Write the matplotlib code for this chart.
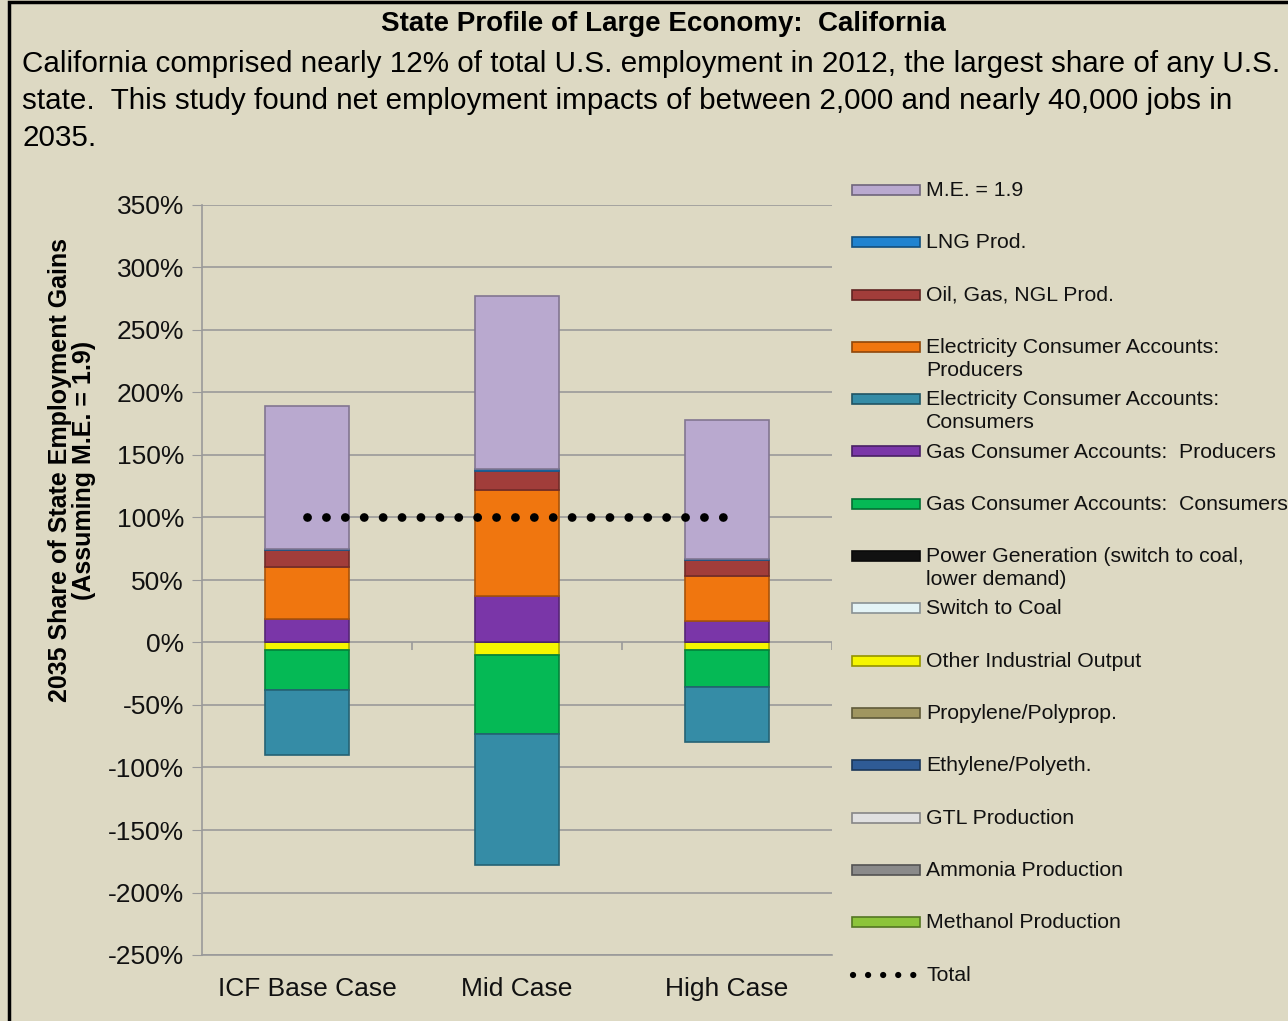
import matplotlib
matplotlib.use("Agg")
import matplotlib.pyplot as plt
from matplotlib.patches import Rectangle
from matplotlib.lines import Line2D
import numpy as np

plt.rcParams["font.family"] = ["Liberation Sans", "DejaVu Sans"]

# Data (% of state employment gains in 2035)
cases = ["ICF Base Case", "Mid Case", "High Case"]
me = [114, 138, 111]
lng_prod = [1, 2, 1]
oil_gas = [14, 15, 13]
elec_producers = [41, 85, 36]
elec_consumers = [-52, -105, -44]
gas_producers = [19, 37, 17]
gas_consumers = [-32, -63, -30]
power_gen = [0, 0, 0]
switch_coal = [0, 0, 0]
other_industrial = [-6, -10, -6]
propylene = [0, 0, 0]
ethylene = [0, 0, 0]
gtl = [0, 0, 0]
ammonia = [0, 0, 0]
methanol = [0, 0, 0]
total = [100, 100, 100]

# legend order (top to bottom)
series = [
    ("M.E. = 1.9", me, "#B9A9CF"),
    ("LNG Prod.", lng_prod, "#1F83D0"),
    ("Oil, Gas, NGL Prod.", oil_gas, "#A13D3A"),
    ("Electricity Consumer Accounts:\nProducers", elec_producers, "#F0760F"),
    ("Electricity Consumer Accounts:\nConsumers", elec_consumers, "#358CA6"),
    ("Gas Consumer Accounts:  Producers", gas_producers, "#7A36A8"),
    ("Gas Consumer Accounts:  Consumers", gas_consumers, "#05B955"),
    ("Power Generation (switch to coal,\nlower demand)", power_gen, "#111111"),
    ("Switch to Coal", switch_coal, "#E4F4F6"),
    ("Other Industrial Output", other_industrial, "#F6F600"),
    ("Propylene/Polyprop.", propylene, "#A09660"),
    ("Ethylene/Polyeth.", ethylene, "#2F5B95"),
    ("GTL Production", gtl, "#E0E0E0"),
    ("Ammonia Production", ammonia, "#8A8A8A"),
    ("Methanol Production", methanol, "#8CC43A"),
]

bg = "#DDD9C3"
W, H = 1288, 1021
fig = plt.figure(figsize=(W / 100, H / 100), dpi=100, facecolor=bg)

def fx(px):
    return px / W

def fy(py):
    return 1 - py / H

def darker(color, k):
    return matplotlib.colors.to_hex(np.array(matplotlib.colors.to_rgb(color)) * k)

# outer border (cut off at right and bottom)
fig.add_artist(Rectangle((fx(9), -0.05), 1.2, fy(1.5) + 0.05, transform=fig.transFigure,
                         fill=False, edgecolor="black", linewidth=2.5))

fig.text(fx(663), fy(24), "State Profile of Large Economy:  California", ha="center", va="center",
         fontsize=20, fontweight="bold", color="black")
body = ["California comprised nearly 12% of total U.S. employment in 2012, the largest share of any U.S.",
        "state.  This study found net employment impacts of between 2,000 and nearly 40,000 jobs in",
        "2035."]
for i, line in enumerate(body):
    fig.text(fx(22), fy(64 + 37 * i), line, ha="left", va="center", fontsize=21.3, color="black")

ax = fig.add_axes([fx(202), fy(955), fx(832) - fx(202), fy(205) - fy(955)])
ax.set_facecolor(bg)

x = np.arange(len(cases))
pos_base = np.zeros(len(cases))
neg_base = np.zeros(len(cases))
for name, vals, color in series[::-1]:
    v = np.array(vals, dtype=float)
    bottoms = np.where(v >= 0, pos_base, neg_base)
    ax.bar(x, v, 0.4, bottom=bottoms, color=color, edgecolor=darker(color, 0.7),
           linewidth=1.2, zorder=3)
    pos_base += np.where(v >= 0, v, 0)
    neg_base += np.where(v < 0, v, 0)

ax.plot(x, total, color="black", lw=6.3, linestyle=(0, (0.01, 2.15)),
        dash_capstyle="round", zorder=4)

ax.set_xlim(-0.5, 2.5)
ax.set_ylim(-250, 350)
ax.set_yticks(np.arange(-250, 351, 50))
ax.set_yticklabels([f"{t}%" for t in range(-250, 351, 50)])
ax.yaxis.grid(True, color="#9A9A9A", linewidth=1.2, zorder=0)
ax.set_axisbelow(True)
ax.set_xticks(x)
ax.set_xticklabels(cases)
ax.vlines([0.5, 1.5, 2.5], -6, 0, color="#9A9A9A", lw=1.2, zorder=1)
for s in ["top", "right"]:
    ax.spines[s].set_visible(False)
ax.spines["left"].set_color("#9A9A9A")
ax.spines["bottom"].set_color("#9A9A9A")
ax.spines["left"].set_linewidth(1.2)
ax.spines["bottom"].set_linewidth(1.2)
ax.tick_params(axis="y", length=7, color="#9A9A9A", labelsize=19, pad=6, labelcolor="#111111")
ax.tick_params(axis="x", length=0, labelsize=19, pad=16, labelcolor="#111111")

fig.text(fx(72), fy(470), "2035 Share of State Employment Gains\n(Assuming M.E. = 1.9)",
         rotation=90, ha="center", va="center", fontsize=18, fontweight="bold",
         linespacing=1.0, multialignment="center")

# legend, drawn row by row like the original
pitch = 52.3
for i, (name, vals, color) in enumerate(series):
    yc = 190 + pitch * i
    fig.add_artist(Rectangle((fx(852), fy(yc + 5)), fx(68), 10 / H, transform=fig.transFigure,
                             facecolor=color, edgecolor=darker(color, 0.6), linewidth=1.2))
    fig.text(fx(926), fy(yc - 9), name, ha="left", va="top", fontsize=15.3,
             color="#111111", linespacing=1.25)

yc = 190 + pitch * 15
fig.add_artist(Line2D([fx(853), fx(914)], [fy(yc), fy(yc)], transform=fig.transFigure,
                      color="black", lw=4.5, linestyle=(0, (0.01, 2.4)), dash_capstyle="round"))
fig.text(fx(926), fy(yc - 9), "Total", ha="left", va="top", fontsize=15.3, color="#111111")

fig.savefig("out.png", dpi=100, facecolor=bg)
